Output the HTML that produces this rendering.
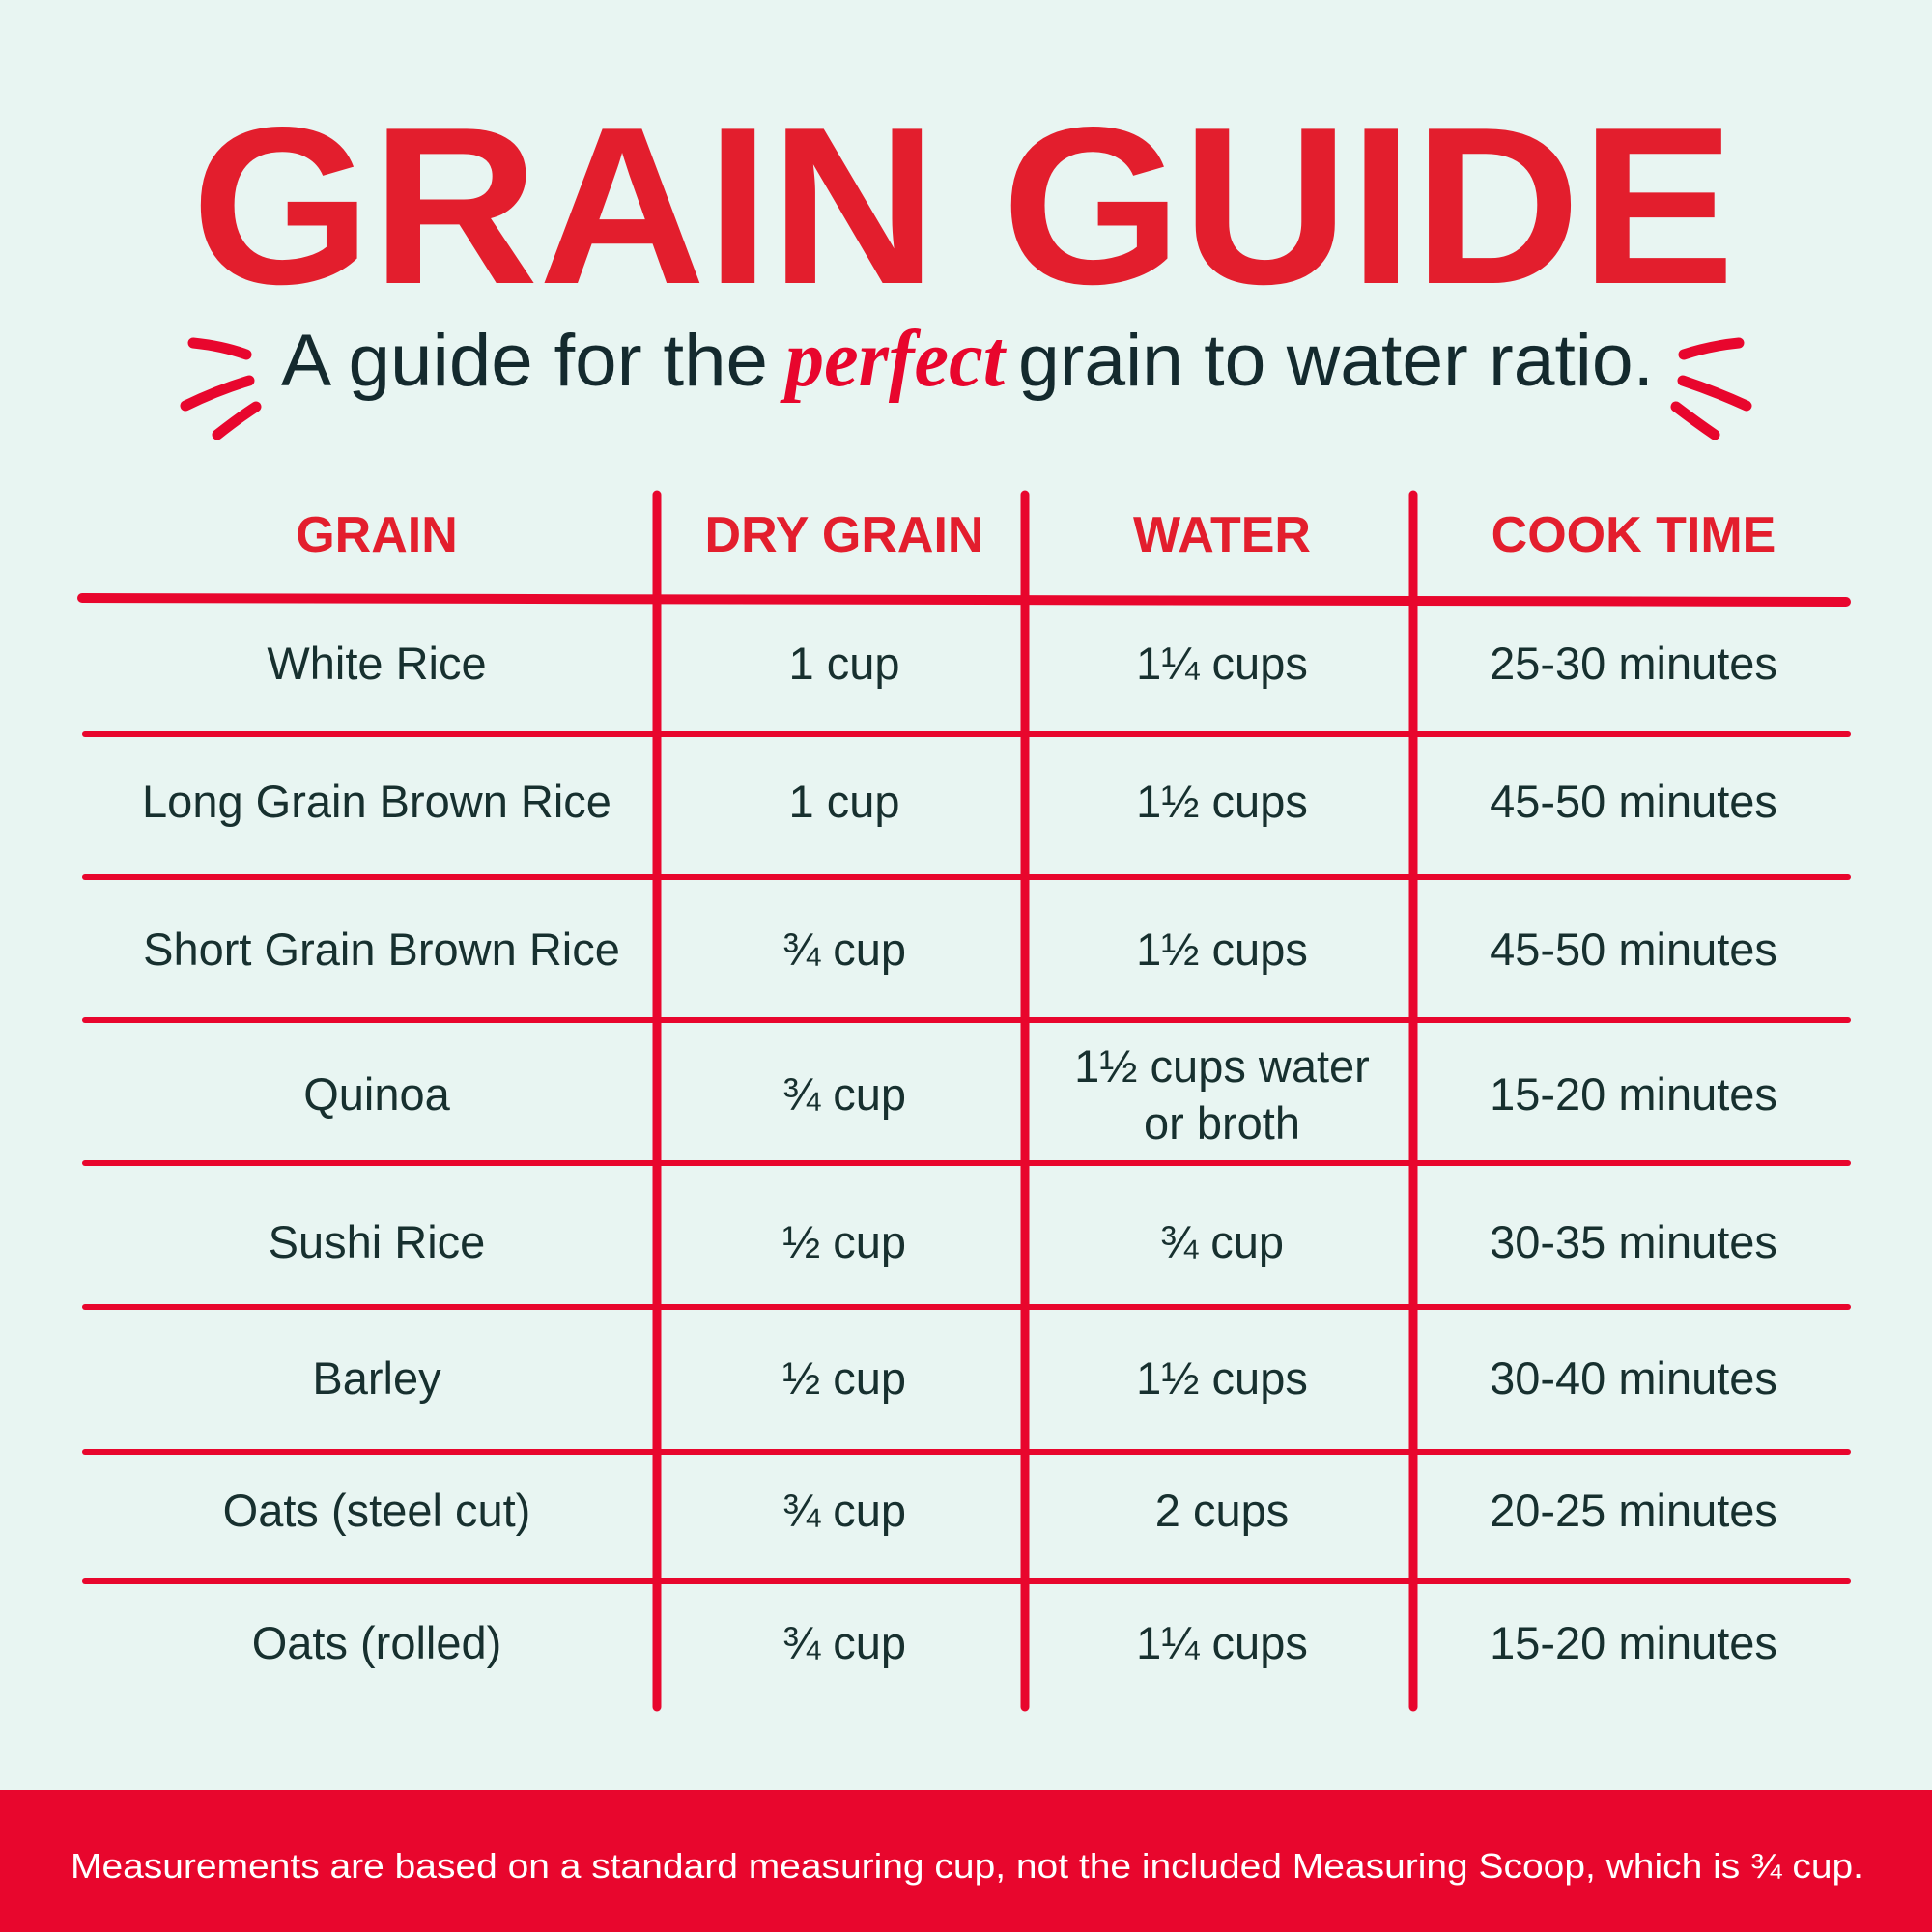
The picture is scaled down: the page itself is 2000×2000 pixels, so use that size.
<!DOCTYPE html>
<html><head><meta charset="utf-8"><style>
html,body{margin:0;padding:0;width:2000px;height:2000px;overflow:hidden;background:#e8f5f2}
svg{display:block}
</style></head><body>
<svg width="2000" height="2000" viewBox="0 0 2000 2000" xmlns="http://www.w3.org/2000/svg">
<rect width="2000" height="2000" fill="#e8f5f2"/>
<text x="198" y="293" font-family="Liberation Sans, sans-serif" font-weight="bold" font-size="232" fill="#e31e2d" textLength="1598" lengthAdjust="spacingAndGlyphs">GRAIN GUIDE</text>
<g stroke="#e8062d" stroke-width="11" stroke-linecap="round" fill="none">
<path d="M200 355 Q230 358 255 367"/><path d="M192 420 Q225 404 258 394"/><path d="M225 450 Q248 432 265 421"/>
<path d="M1743 367 Q1770 358 1800 355"/><path d="M1742 394 Q1775 405 1808 420"/><path d="M1735 421 Q1756 437 1775 450"/>
</g>
<g font-family="Liberation Sans, sans-serif" font-size="76" fill="#142a2e">
<text x="291" y="399" textLength="504" lengthAdjust="spacingAndGlyphs">A guide for the</text>
<text x="1054" y="399" textLength="658" lengthAdjust="spacingAndGlyphs">grain to water ratio.</text>
</g>
<text x="813" y="399" font-family="Liberation Serif, serif" font-style="italic" font-weight="bold" font-size="84" fill="#e8062d" textLength="227" lengthAdjust="spacingAndGlyphs">perfect</text>
<g font-family="Liberation Sans, sans-serif" font-weight="bold" font-size="52" fill="#e31e2d" text-anchor="middle">
<text x="390" y="571">GRAIN</text><text x="874" y="571">DRY GRAIN</text><text x="1265" y="571">WATER</text><text x="1691" y="571">COOK TIME</text>
</g>
<g stroke="#e8062d" stroke-linecap="round">
<line x1="680" y1="512" x2="680" y2="1767" stroke-width="9"/>
<line x1="1061" y1="512" x2="1061" y2="1767" stroke-width="9"/>
<line x1="1463" y1="512" x2="1463" y2="1767" stroke-width="9"/>
<line x1="85" y1="619" x2="1911" y2="623" stroke-width="10"/>
<line x1="88" y1="760" x2="1913" y2="760" stroke-width="6"/>
<line x1="88" y1="908" x2="1913" y2="908" stroke-width="6"/>
<line x1="88" y1="1056" x2="1913" y2="1056" stroke-width="6"/>
<line x1="88" y1="1204" x2="1913" y2="1204" stroke-width="6"/>
<line x1="88" y1="1353" x2="1913" y2="1353" stroke-width="6"/>
<line x1="88" y1="1503" x2="1913" y2="1503" stroke-width="6"/>
<line x1="88" y1="1637" x2="1913" y2="1637" stroke-width="6"/>
</g>
<g font-family="Liberation Sans, sans-serif" font-size="47" fill="#17302f" text-anchor="middle">
<text x="390" y="703">White Rice</text><text x="874" y="703">1 cup</text><text x="1265" y="703">1¼ cups</text><text x="1691" y="703">25-30 minutes</text>
<text x="390" y="846">Long Grain Brown Rice</text><text x="874" y="846">1 cup</text><text x="1265" y="846">1½ cups</text><text x="1691" y="846">45-50 minutes</text>
<text x="395" y="999">Short Grain Brown Rice</text><text x="874" y="999">¾ cup</text><text x="1265" y="999">1½ cups</text><text x="1691" y="999">45-50 minutes</text>
<text x="390" y="1149">Quinoa</text><text x="874" y="1149">¾ cup</text><text x="1265" y="1120">1½ cups water</text><text x="1265" y="1179">or broth</text><text x="1691" y="1149">15-20 minutes</text>
<text x="390" y="1302">Sushi Rice</text><text x="874" y="1302">½ cup</text><text x="1265" y="1302">¾ cup</text><text x="1691" y="1302">30-35 minutes</text>
<text x="390" y="1443">Barley</text><text x="874" y="1443">½ cup</text><text x="1265" y="1443">1½ cups</text><text x="1691" y="1443">30-40 minutes</text>
<text x="390" y="1580">Oats (steel cut)</text><text x="874" y="1580">¾ cup</text><text x="1265" y="1580">2 cups</text><text x="1691" y="1580">20-25 minutes</text>
<text x="390" y="1717">Oats (rolled)</text><text x="874" y="1717">¾ cup</text><text x="1265" y="1717">1¼ cups</text><text x="1691" y="1717">15-20 minutes</text>
</g>
<rect x="0" y="1853" width="2000" height="147" fill="#e8062d"/>
<text x="73" y="1944" font-family="Liberation Sans, sans-serif" font-size="36" fill="#ffffff" textLength="1856" lengthAdjust="spacingAndGlyphs">Measurements are based on a standard measuring cup, not the included Measuring Scoop, which is ¾ cup.</text>
</svg>
</body></html>
